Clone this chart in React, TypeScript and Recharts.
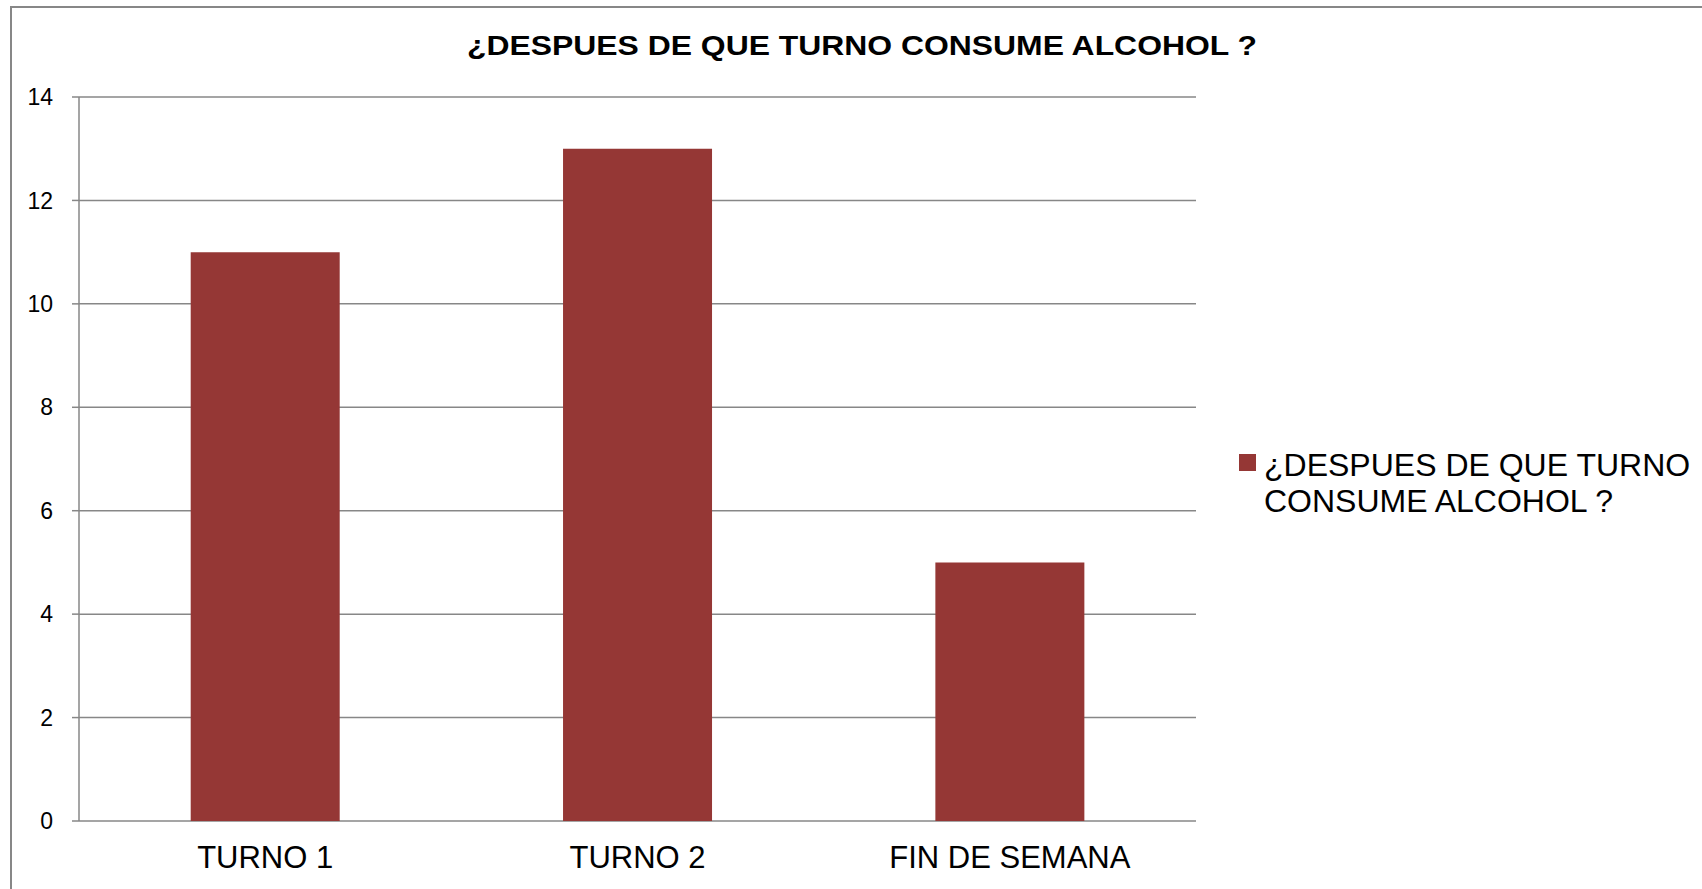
import React from "react";
import { BarChart, Bar, XAxis, YAxis, CartesianGrid } from "recharts";

const categories = ["TURNO 1", "TURNO 2", "FIN DE SEMANA"];
const values = [11, 13, 5];
const yTicks = [0, 2, 4, 6, 8, 10, 12, 14];
const edgeTicks = [0, 1, 2, 3];
const seriesName = "¿DESPUES DE QUE TURNO CONSUME ALCOHOL ?";
const chartTitle = "¿DESPUES DE QUE TURNO CONSUME ALCOHOL ?";

const data = categories.map((c, i) => ({ name: c, value: values[i] }));

const FONT = "'Liberation Sans', Arial, sans-serif";
const GRAY = "#878787";
const BAR = "#953735";

export default function App() {
  return (
    <div
      style={{
        position: "absolute",
        left: 0,
        top: 0,
        width: 1702,
        height: 889,
        overflow: "hidden",
        background: "#fff",
        fontFamily: FONT,
      }}
    >
      <div
        style={{
          position: "absolute",
          left: 10,
          top: 6,
          width: 1720,
          height: 920,
          border: `2px solid ${GRAY}`,
          boxSizing: "border-box",
        }}
      />
      <div style={{ position: "absolute", left: 0, top: 0 }}>
        <BarChart
          width={1702}
          height={889}
          data={data}
          margin={{ top: 97, right: 506, left: 0, bottom: 0 }}
          barCategoryGap="30%"
        >
          <CartesianGrid vertical={false} stroke={GRAY} strokeWidth={1.5} />
          <XAxis
            xAxisId="edges"
            type="number"
            domain={[0, 3]}
            ticks={edgeTicks}
            height={0}
            tick={false}
            tickSize={9}
            axisLine={{ stroke: GRAY, strokeWidth: 1.5 }}
            tickLine={{ stroke: GRAY, strokeWidth: 1.5 }}
            allowDataOverflow
          />
          <XAxis
            dataKey="name"
            height={68}
            axisLine={false}
            tickLine={false}
            tickSize={0}
            tickMargin={25}
            interval={0}
            tick={{ fill: "#000", fontSize: 31, fontFamily: FONT }}
          />
          <YAxis
            width={79}
            domain={[0, 14]}
            ticks={yTicks}
            interval={0}
            tickSize={7}
            tickMargin={19}
            axisLine={{ stroke: GRAY, strokeWidth: 1.5 }}
            tickLine={{ stroke: GRAY, strokeWidth: 1.5 }}
            tick={{ fill: "#000", fontSize: 23, fontFamily: FONT }}
          />
          <Bar dataKey="value" name={seriesName} fill={BAR} isAnimationActive={false} />
        </BarChart>
      </div>
      <svg
        width={1702}
        height={889}
        style={{ position: "absolute", left: 0, top: 0, pointerEvents: "none" }}
      >
        <text
          x={467}
          y={54.5}
          fontFamily={FONT}
          fontWeight="bold"
          fontSize={28}
          fill="#000"
          textLength={790}
          lengthAdjust="spacingAndGlyphs"
        >
          {chartTitle}
        </text>
        <rect x={1239} y={454} width={17} height={17} fill={BAR} />
      </svg>
      <div
        style={{
          position: "absolute",
          left: 1264,
          top: 447,
          width: 445,
          fontSize: 32,
          lineHeight: "36px",
          color: "#000",
          fontFamily: FONT,
        }}
      >
        {seriesName}
      </div>
    </div>
  );
}
